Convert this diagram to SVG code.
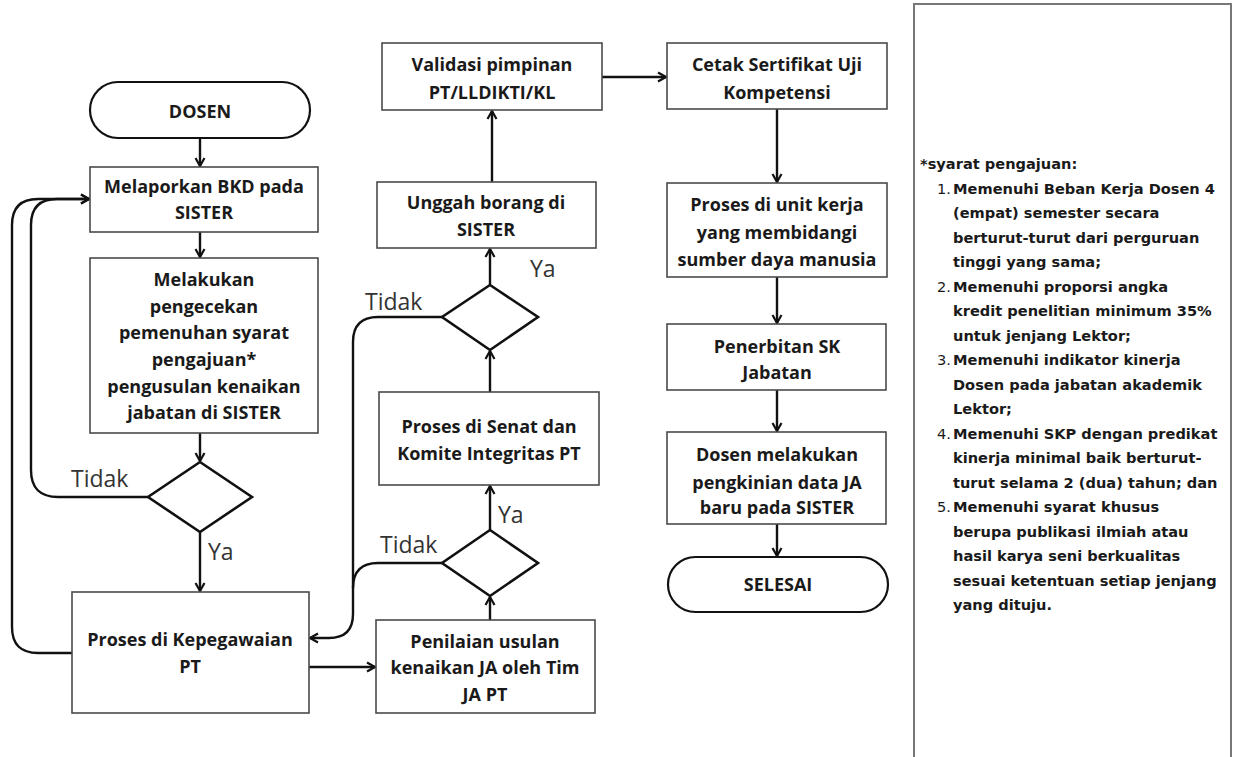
<svg xmlns="http://www.w3.org/2000/svg" width="1238" height="757" viewBox="0 0 1238 757">
<style>
.box{fill:#fff;stroke:#4a4a4a;stroke-width:1.6}
.term{fill:#fff;stroke:#111;stroke-width:2.2}
.dia{fill:#fff;stroke:#111;stroke-width:2.6;stroke-linejoin:miter}
.con{fill:none;stroke:#111;stroke-width:2.4}
.arr{marker-end:url(#ah)}
.t{font-family:"Open Sans","Liberation Sans",sans-serif;font-weight:700;font-size:18px;fill:#1a1a1a;text-anchor:middle}
.lbl{font-family:"Open Sans","Liberation Sans",sans-serif;font-size:23px;fill:#333}
.note{font-family:"DejaVu Sans","Liberation Sans",sans-serif;font-weight:700;font-size:14.6px;fill:#1a1a1a}
.num{font-family:"DejaVu Sans","Liberation Sans",sans-serif;font-weight:400;font-size:14.6px;fill:#1a1a1a;text-anchor:end}
</style>
<defs>
<marker id="ah" markerUnits="userSpaceOnUse" markerWidth="14" markerHeight="14" refX="10" refY="6" orient="auto">
<path d="M2,1.5 L10,6 L2,10.5" fill="none" stroke="#111" stroke-width="2.2"/>
</marker>
</defs>
<rect width="1238" height="757" fill="#fff"/>

<g id="connectors">
<path class="con arr" d="M200,138 V166"/>
<path class="con arr" d="M200,232 V257"/>
<path class="con arr" d="M200,433 V461"/>
<path class="con arr" d="M200,532 V591"/>
<path class="con arr" d="M148,497 H58 Q31,497 31,470 V225 Q31,199 57,199 H89"/>
<path class="con arr" d="M72,653 H38 Q12,653 12,627 V225 Q12,199 38,199 H89"/>
<path class="con arr" d="M442,317 H378 Q353,317 353,342 V614 Q353,638 329,638 H310"/>
<path class="con" d="M442,563 H378 Q353,563 353,588"/>
<path class="con arr" d="M309,667 H375"/>
<path class="con arr" d="M490,620 V597"/>
<path class="con arr" d="M490,530 V486"/>
<path class="con arr" d="M490,392 V351"/>
<path class="con arr" d="M490,285 V249"/>
<path class="con arr" d="M492,182 V111"/>
<path class="con arr" d="M602,77 H666"/>
<path class="con arr" d="M777,109 V182"/>
<path class="con arr" d="M777,277 V323"/>
<path class="con arr" d="M777,390 V431"/>
<path class="con arr" d="M777,524 V556"/>
<text class="lbl" x="71" y="487">Tidak</text>
<text class="lbl" x="208" y="560">Ya</text>
<text class="lbl" x="380" y="553">Tidak</text>
<text class="lbl" x="498" y="523">Ya</text>
<text class="lbl" x="365" y="310">Tidak</text>
<text class="lbl" x="530" y="277">Ya</text>
</g>

<g id="dosen">
<rect class="term" x="90" y="82" width="220" height="56" rx="28"/>
<text class="t" x="200" y="118">DOSEN</text>
</g>
<g id="melaporkan">
<rect class="box" x="90" y="167" width="228" height="65"/>
<text class="t" x="204" y="193">Melaporkan BKD pada</text>
<text class="t" x="204" y="219">SISTER</text>
</g>
<g id="melakukan">
<rect class="box" x="90" y="258" width="228" height="175"/>
<text class="t" x="204" y="286">Melakukan</text>
<text class="t" x="204" y="313">pengecekan</text>
<text class="t" x="204" y="339">pemenuhan syarat</text>
<text class="t" x="204" y="366">pengajuan*</text>
<text class="t" x="204" y="393">pengusulan kenaikan</text>
<text class="t" x="204" y="419">jabatan di SISTER</text>
</g>
<g id="cek1">
<polygon class="dia" points="200,462 252,497 200,532 148,497"/>
</g>
<g id="kepegawaian">
<rect class="box" x="72" y="592" width="237" height="121"/>
<text class="t" x="190" y="646">Proses di Kepegawaian</text>
<text class="t" x="190" y="673">PT</text>
</g>
<g id="penilaian">
<rect class="box" x="376" y="620" width="219" height="93"/>
<text class="t" x="485" y="648">Penilaian usulan</text>
<text class="t" x="485" y="674">kenaikan JA oleh Tim</text>
<text class="t" x="485" y="701">JA PT</text>
</g>
<g id="cek2">
<polygon class="dia" points="490,530 538,563 490,596 442,563"/>
</g>
<g id="senat">
<rect class="box" x="379" y="392" width="220" height="93"/>
<text class="t" x="489" y="433">Proses di Senat dan</text>
<text class="t" x="489" y="460">Komite Integritas PT</text>
</g>
<g id="cek3">
<polygon class="dia" points="490,285 538,317 490,350 442,317"/>
</g>
<g id="unggah">
<rect class="box" x="377" y="182" width="219" height="66"/>
<text class="t" x="486" y="209">Unggah borang di</text>
<text class="t" x="486" y="236">SISTER</text>
</g>
<g id="validasi">
<rect class="box" x="382" y="43" width="220" height="67"/>
<text class="t" x="492" y="71">Validasi pimpinan</text>
<text class="t" x="492" y="99">PT/LLDIKTI/KL</text>
</g>
<g id="cetak">
<rect class="box" x="667" y="43" width="220" height="66"/>
<text class="t" x="777" y="71">Cetak Sertifikat Uji</text>
<text class="t" x="777" y="99">Kompetensi</text>
</g>
<g id="unitkerja">
<rect class="box" x="667" y="183" width="220" height="94"/>
<text class="t" x="777" y="211">Proses di unit kerja</text>
<text class="t" x="777" y="239">yang membidangi</text>
<text class="t" x="777" y="266">sumber daya manusia</text>
</g>
<g id="penerbitan">
<rect class="box" x="667" y="324" width="219" height="66"/>
<text class="t" x="777" y="353">Penerbitan SK</text>
<text class="t" x="777" y="379">Jabatan</text>
</g>
<g id="pengkinian">
<rect class="box" x="667" y="432" width="219" height="92"/>
<text class="t" x="777" y="461">Dosen melakukan</text>
<text class="t" x="777" y="489">pengkinian data JA</text>
<text class="t" x="777" y="514">baru pada SISTER</text>
</g>
<g id="selesai">
<rect class="term" x="668" y="557" width="220" height="55" rx="27.5"/>
<text class="t" x="778" y="591">SELESAI</text>
</g>

<g id="catatan">
<rect x="914" y="4" width="317" height="770" fill="#fff" stroke="#777" stroke-width="2"/>
<text class="note" x="920" y="169">*syarat pengajuan:</text>
<text class="num" x="951" y="193.5">1.</text>
<text class="note" x="953" y="193.5">Memenuhi Beban Kerja Dosen 4</text>
<text class="note" x="953" y="218">(empat) semester secara</text>
<text class="note" x="953" y="242.5">berturut-turut dari perguruan</text>
<text class="note" x="953" y="267">tinggi yang sama;</text>
<text class="num" x="951" y="291.5">2.</text>
<text class="note" x="953" y="291.5">Memenuhi proporsi angka</text>
<text class="note" x="953" y="316">kredit penelitian minimum 35%</text>
<text class="note" x="953" y="340.5">untuk jenjang Lektor;</text>
<text class="num" x="951" y="365">3.</text>
<text class="note" x="953" y="365">Memenuhi indikator kinerja</text>
<text class="note" x="953" y="389.5">Dosen pada jabatan akademik</text>
<text class="note" x="953" y="414">Lektor;</text>
<text class="num" x="951" y="438.5">4.</text>
<text class="note" x="953" y="438.5">Memenuhi SKP dengan predikat</text>
<text class="note" x="953" y="463">kinerja minimal baik berturut-</text>
<text class="note" x="953" y="487.5">turut selama 2 (dua) tahun; dan</text>
<text class="num" x="951" y="512">5.</text>
<text class="note" x="953" y="512">Memenuhi syarat khusus</text>
<text class="note" x="953" y="536.5">berupa publikasi ilmiah atau</text>
<text class="note" x="953" y="561">hasil karya seni berkualitas</text>
<text class="note" x="953" y="585.5">sesuai ketentuan setiap jenjang</text>
<text class="note" x="953" y="610">yang dituju.</text>
</g>
</svg>
